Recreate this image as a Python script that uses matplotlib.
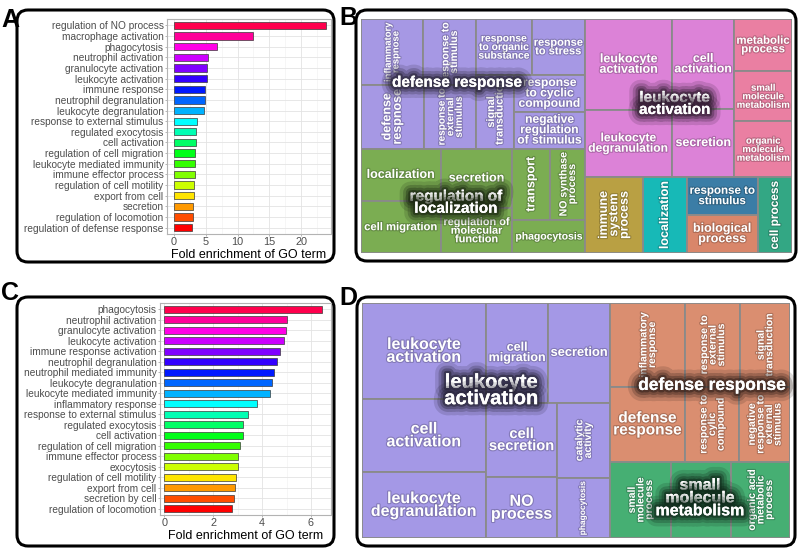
import colorsys

import matplotlib
matplotlib.use("Agg")
import matplotlib.pyplot as plt
import matplotlib.patheffects as pe
from matplotlib.colors import to_rgb
from matplotlib.patches import FancyBboxPatch, Rectangle
from matplotlib.ticker import MultipleLocator

plt.rcParams['font.family'] = ['Liberation Sans', 'DejaVu Sans']

W, H = 800, 552

# panel A: GO enrichment (top 20 terms)
a_terms = ['regulation of NO process', 'macrophage activation', 'phagocytosis',
           'neutrophil activation', 'granulocyte activation', 'leukocyte activation',
           'immune response', 'neutrophil degranulation', 'leukocyte degranulation',
           'response to external stimulus', 'regulated exocytosis', 'cell activation',
           'regulation of cell migration', 'leukocyte mediated immunity',
           'immune effector process', 'regulation of cell motility', 'export from cell',
           'secretion', 'regulation of locomotion', 'regulation of defense response']
a_values = [23.9, 12.4, 6.8, 5.3, 5.2, 5.15, 4.9, 4.85, 4.7, 3.65,
            3.5, 3.5, 3.35, 3.35, 3.25, 3.15, 3.1, 3.0, 3.0, 2.85]

# panel C
c_terms = ['phagocytosis', 'neutrophil activation', 'granulocyte activation',
           'leukocyte activation', 'immune response activation', 'neutrophil degranulation',
           'neutrophil mediated immunity', 'leukocyte degranulation',
           'leukocyte mediated immunity', 'inflammatory response',
           'response to external stimulus', 'regulated exocytosis', 'cell activation',
           'regulation of cell migration', 'immune effector process', 'exocytosis',
           'regulation of cell motility', 'export from cell', 'secretion by cell',
           'regulation of locomotion']
c_values = [6.47, 5.0, 4.96, 4.89, 4.73, 4.59, 4.5, 4.41, 4.32, 3.79,
            3.42, 3.23, 3.2, 3.08, 3.01, 3.0, 2.93, 2.89, 2.83, 2.77]

# panel B: REVIGO treemap
b_labels = ['inflammatory\nrespnose', 'response to\nstimulus', 'response\nto organic\nsubstance',
            'response\nto stress', 'defense\nrespnose', 'response to\nexternal\nstimulus',
            'signal\ntransduction', 'response\nto cyclic\ncompound',
            'negative\nregulation\nof stimulus', 'localization', 'cell migration', 'secretion',
            'regulation of\nmolecular\nfunction', 'transport', 'NO synthase\nprocess',
            'phagocytosis', 'leukocyte\nactivation', 'leukocyte\ndegranulation',
            'cell\nactivation', 'secretion', 'metabolic\nprocess', 'small\nmolecule\nmetabolism',
            'organic\nmolecule\nmetabolism', 'immune\nsystem\nprocess', 'localization',
            'response to\nstimulus', 'biological\nprocess', 'cell process']
b_sizes = [41, 35, 31, 30, 40, 33, 28, 26, 26, 42, 41, 43, 32, 27, 25, 24,
           79, 58, 56, 42, 30, 29, 32, 44, 33, 27, 27, 26]
b_groups = [0, 0, 0, 0, 0, 0, 0, 0, 0, 1, 1, 1, 1, 1, 1, 1,
            2, 2, 2, 2, 3, 3, 3, 4, 5, 6, 7, 8]
b_group_names = ['defense response', 'regulation of\nlocalization', 'leukocyte\nactivation',
                 '', '', '', '', '', '']
b_colors = ['#A698E4', '#7BAD52', '#DC82D7', '#EA7FA2', '#B9A043',
            '#17B9B7', '#3B7DA6', '#D9866A', '#33A784']
b_rotated = {0, 1, 4, 5, 6, 13, 14, 23, 24, 27}
b_tree = ('h', [
    ('v', [
        ('h', [('v', [('h', [0, 1]), ('h', [4, 5])]),
               ('v', [('h', [2, 3]), ('h', [6, ('v', [7, 8])])])]),
        ('h', [('v', [9, 10]), ('v', [11, 12]), ('v', [('h', [13, 14]), 15])]),
    ]),
    ('v', [
        ('h', [('h', [('v', [16, 17]), ('v', [18, 19])]), ('v', [20, 21, 22])]),
        ('h', [23, 24, ('v', [25, 26]), 27]),
    ]),
])

# panel D
d_labels = ['leukocyte\nactivation', 'cell\nactivation', 'leukocyte\ndegranulation',
            'cell\nmigration', 'secretion', 'cell\nsecretion', 'NO\nprocess',
            'catalytic\nactivity', 'phagocytosis', 'inflammatory\nresponse',
            'response to\nexternal\nstimulus', 'signal\ntransduction', 'defense\nresponse',
            'response to\ncylic\ncompound', 'negative\nresponse to\nexternal\nstimulus',
            'small\nmolecule\nprocess', '', 'organic acid\nmetabolic\nprocess']
d_sizes = [119, 91, 82, 62, 62, 53, 43, 40, 32, 63, 46, 42, 56, 41, 38, 46, 46, 45]
d_groups = [0] * 9 + [1] * 6 + [2] * 3
d_group_names = ['leukocyte\nactivation', 'defense response', 'small\nmolecule\nmetabolism']
d_colors = ['#A498E6', '#DA8E70', '#46AF73']
d_rotated = {7, 8, 9, 10, 11, 13, 14, 15, 17}
d_tree = ('h', [
    ('h', [('v', [0, 1, 2]),
           ('v', [('h', [3, 4]), ('h', [('v', [5, 6]), ('v', [7, 8])])])]),
    ('v', [('v', [('h', [9, 10, 11]), ('h', [12, 13, 14])]),
           ('h', [15, 16, 17])]),
])

fig = plt.figure(figsize=(W / 100, H / 100), dpi=100)


def px_rect(x0, y0, x1, y1):
    return [x0 / W, 1 - y1 / H, (x1 - x0) / W, (y1 - y0) / H]


# frame layer with rounded boxes and panel letters, 1 unit = 1 pixel
bg = fig.add_axes([0, 0, 1, 1])
bg.set_xlim(0, W)
bg.set_ylim(H, 0)
bg.axis('off')
for (x0, y0, x1, y1), letter, (lx, ly) in [((17, 10, 334, 262), 'A', (1, 27)),
                                           ((356, 10, 796, 261), 'B', (339, 25)),
                                           ((17, 297, 334, 546), 'C', (1, 300)),
                                           ((357, 297, 795, 546), 'D', (339, 305))]:
    bg.add_patch(FancyBboxPatch((x0, y0), x1 - x0, y1 - y0,
                                boxstyle='round,pad=0,rounding_size=11',
                                fill=False, edgecolor='black', linewidth=2.2))
    bg.text(lx, ly, letter, fontsize=18, fontweight='bold', ha='left', va='baseline')


def bar_panel(rect, terms, values, xlim, major, minor):
    ax = fig.add_axes(px_rect(*rect))
    n = len(terms)
    # rainbow palette, hue running from 0.95 down to 0
    colors = [colorsys.hsv_to_rgb(round((n - 1 - i) * 0.05, 3), 1, 1) for i in range(n)]
    ax.barh(range(n), values, height=0.68, color=colors,
            edgecolor='#3a3a3a', linewidth=0.5, zorder=3)
    ax.set_yticks(range(n))
    ax.set_yticklabels(terms)
    ax.set_ylim(n - 0.4, -0.6)
    ax.set_xlim(*xlim)
    ax.xaxis.set_major_locator(MultipleLocator(major))
    ax.xaxis.set_minor_locator(MultipleLocator(minor))
    ax.grid(which='major', color='#E3E3E3', linewidth=0.6, zorder=0)
    ax.grid(which='minor', axis='x', color='#F0F0F0', linewidth=0.4, zorder=0)
    ax.set_axisbelow(True)
    for s in ax.spines.values():
        s.set_color('#B3B3B3')
        s.set_linewidth(0.8)
    ax.tick_params(axis='y', labelsize=7.3, length=1.5, pad=1, width=0.5)
    ax.tick_params(axis='x', labelsize=7.8, length=1.5, pad=0.8, width=0.5)
    ax.tick_params(which='minor', length=0)
    ax.tick_params(color='#999999', labelcolor='#4D4D4D', which='both')
    ax.set_xlabel('Fold enrichment of GO term', fontsize=9, color='black', labelpad=1.5)
    return ax


bar_panel((167, 19, 331, 234), a_terms, a_values, (-1.1, 24.7), 5, 2.5)
bar_panel((160, 303, 331, 515), c_terms, c_values, (-0.18, 6.82), 2, 1)


def weight(node, sizes):
    if isinstance(node, int):
        return sizes[node]
    return sum(weight(c, sizes) for c in node[1])


def layout(node, sizes, x, y, w, h, out):
    if isinstance(node, int):
        out[node] = (x, y, w, h)
        return
    direction, children = node
    total = weight(node, sizes)
    pos = 0.0
    for child in children:
        f = weight(child, sizes) / total
        if direction == 'h':
            layout(child, sizes, x + pos * w, y, f * w, h, out)
        else:
            layout(child, sizes, x, y + pos * h, w, f * h, out)
        pos += f


def treemap_panel(rect, labels, sizes, groups, colors, tree, rotated,
                  group_names, group_fs, group_shift, cap, rot_cap):
    x0, y0, x1, y1 = rect
    pw, ph = x1 - x0, y1 - y0
    ax = fig.add_axes(px_rect(*rect))
    ax.set_xlim(0, 1)
    ax.set_ylim(1, 0)
    ax.axis('off')
    cells = {}
    layout(tree, sizes, 0, 0, 1, 1, cells)
    renderer = fig.canvas.get_renderer()
    shade = [pe.withStroke(linewidth=1.6, foreground='black', alpha=0.2)]
    for i, (x, y, w, h) in cells.items():
        ax.add_patch(Rectangle((x, y), w, h, facecolor=colors[groups[i]],
                               edgecolor='#8a8a8a', linewidth=1.3))
        if not labels[i]:
            continue
        rot = i in rotated
        t = ax.text(x + w / 2, y + h / 2, labels[i], ha='center', va='center',
                    ma='center', rotation=90 if rot else 0, color='white',
                    fontweight='bold', fontsize=10, linespacing=0.82,
                    path_effects=shade)
        ext = t.get_window_extent(renderer)
        t.set_fontsize(min(rot_cap if rot else cap,
                           10 * 0.92 * w * pw / ext.width,
                           10 * 0.9 * h * ph / ext.height))
    for g, name in enumerate(group_names):
        if not name:
            continue
        members = [cells[i] for i in cells if groups[i] == g]
        gx0 = min(m[0] for m in members)
        gx1 = max(m[0] + m[2] for m in members)
        gy0 = min(m[1] for m in members)
        gy1 = max(m[1] + m[3] for m in members)
        dx, dy = group_shift[g]
        dark = tuple(v * 0.22 for v in to_rgb(colors[g]))
        glow = [pe.withStroke(linewidth=16, foreground=dark, alpha=0.16),
                pe.withStroke(linewidth=11, foreground=dark, alpha=0.24),
                pe.withStroke(linewidth=7, foreground=dark, alpha=0.34),
                pe.withStroke(linewidth=3.5, foreground=dark, alpha=0.55),
                pe.Normal()]
        ax.text((gx0 + gx1) / 2 + dx / pw, (gy0 + gy1) / 2 + dy / ph, name,
                ha='center', va='center', ma='center', color='white',
                fontweight='bold', fontsize=group_fs[g], linespacing=0.82,
                path_effects=glow, zorder=5)


treemap_panel((361, 19, 792, 253), b_labels, b_sizes, b_groups, b_colors, b_tree,
              b_rotated, b_group_names, [11, 11, 11], [(-16, -1), (-17, 2), (15, 6)],
              9, 9)
treemap_panel((362, 303, 790, 538), d_labels, d_sizes, d_groups, d_colors, d_tree,
              d_rotated, d_group_names, [14.5, 12.5, 11.5], [(5, -30), (12, 3), (0, -2)],
              11.5, 7.5)

fig.savefig('out.png', dpi=100)
